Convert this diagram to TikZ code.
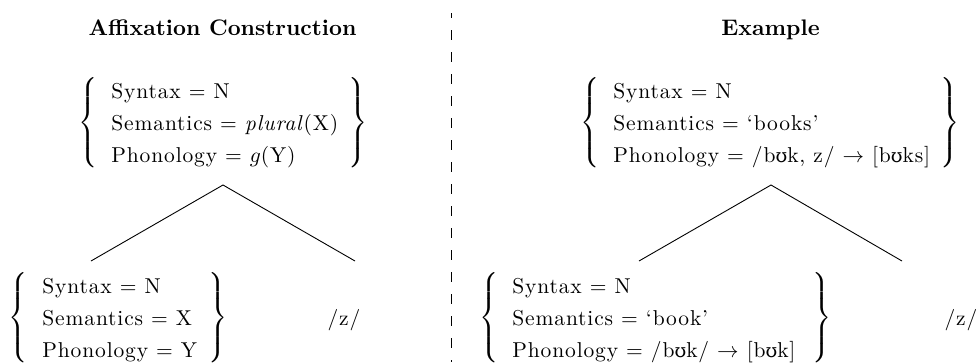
\documentclass[tikz,border=0pt]{standalone}
\usepackage{fontspec}
\setmainfont{Latin Modern Roman}[LetterSpace=4]
\newfontfamily\ttlfont{Latin Modern Roman}
\newfontfamily\ipafont{DejaVu Serif}[Scale=0.88]
\newcommand{\upsl}{{\ipafont ʊ}}
\newcommand{\lbr}[1]{$\delimiterfactor=1000\delimitershortfall=0pt\nulldelimiterspace=0pt\left\{\vcenter{\hrule height #1 width 0pt}\right.$}
\newcommand{\rbr}[1]{$\delimiterfactor=1000\delimitershortfall=0pt\nulldelimiterspace=0pt\left.\vcenter{\hrule height #1 width 0pt}\right\}$}
\begin{document}
\begin{tikzpicture}[x=1pt,y=-1pt,
  txt/.style={scale=2.15, inner sep=0pt, anchor=base west},
  ttl/.style={scale=2.25, inner sep=0pt, anchor=base, font=\ttlfont\bfseries},
  brc/.style={scale=2.15, inner sep=0pt, anchor=center},
  tree/.style={line width=0.9pt},
  sep/.style={line width=0.9pt, dash pattern=on 10pt off 12pt, dash phase=5pt}]
\useasboundingbox (0,0) rectangle (976,362);

% titles
\node[ttl] (t1) at (222.5,35) {Affixation Construction};
\node[ttl] (t2) at (770.5,35) {Example};

% separator
\coordinate (s1) at (451,13);
\coordinate (s2) at (451,362);
\draw[sep] (s1) -- (s2);

% top-left box
\node[brc] (tlL) at (88.5,123) {\lbr{40pt}};
\node[brc] (tlR) at (358.5,123) {\rbr{40pt}};
\node[txt] (tl1) at (111,98) {Syntax $=$ N};
\node[txt] (tl2) at (111,130) {Semantics $=$ \textit{plural}(X)};
\node[txt] (tl3) at (111,162) {Phonology $=$ $g$(Y)};

% bottom-left box
\node[brc] (blL) at (18.5,318) {\lbr{40pt}};
\node[brc] (blR) at (218.5,318) {\rbr{40pt}};
\node[txt] (bl1) at (42,293) {Syntax $=$ N};
\node[txt] (bl2) at (42,325) {Semantics $=$ X};
\node[txt] (bl3) at (42,357) {Phonology $=$ Y};
\node[txt, anchor=base] (zl) at (344,325) {/z/};

% left tree
\coordinate (ta) at (223,185);
\coordinate (tb) at (91,261);
\coordinate (tc) at (355,261);
\draw[tree] (tb) -- (ta) -- (tc);

% top-right box
\node[brc] (trL) at (590.5,123) {\lbr{40pt}};
\node[brc] (trR) at (950.5,123) {\rbr{40pt}};
\node[txt] (tr1) at (613,98) {Syntax $=$ N};
\node[txt] (tr2) at (613,130) {Semantics $=$ `books'};
\node[txt] (tr3) at (613,162) {Phonology $=$ /b\upsl k, z/ $\rightarrow$ [b\upsl ks]};

% bottom-right box
\node[brc] (brL) at (489,318) {\lbr{40pt}};
\node[brc] (brR) at (822,318) {\rbr{40pt}};
\node[txt] (br1) at (512,293) {Syntax $=$ N};
\node[txt] (br2) at (512,325) {Semantics $=$ `book'};
\node[txt] (br3) at (512,357) {Phonology $=$ /b\upsl k/ $\rightarrow$ [b\upsl k]};
\node[txt, anchor=base] (zr) at (961,325) {/z/};

% right tree
\coordinate (ua) at (771,185);
\coordinate (ub) at (639,261);
\coordinate (uc) at (902,261);
\draw[tree] (ub) -- (ua) -- (uc);
\end{tikzpicture}
\end{document}
